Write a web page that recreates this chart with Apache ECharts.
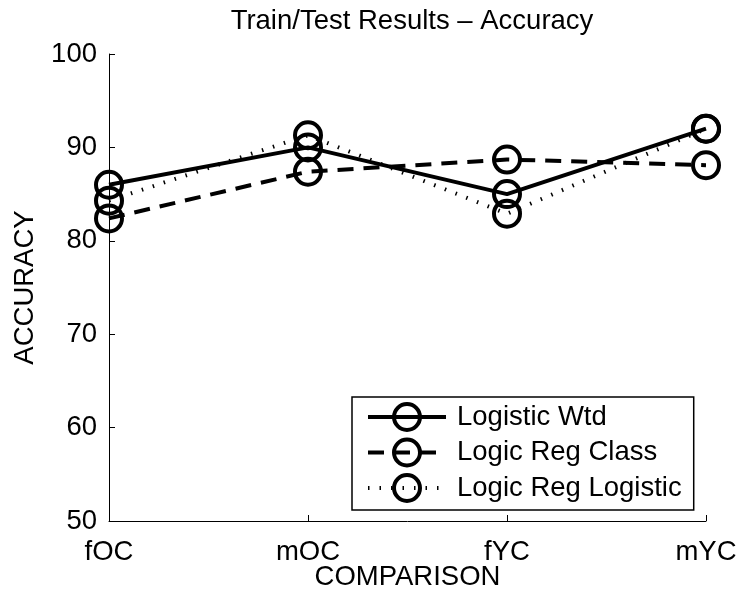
<!DOCTYPE html>
<html><head><meta charset="utf-8">
<script src="https://cdn.jsdelivr.net/npm/echarts@6/dist/echarts.min.js"></script>
<style>html,body{margin:0;padding:0;background:#fff}#c{width:740px;height:590px}</style>
</head><body><div id="c"></div>
<script>
const categories = ['fOC', 'mOC', 'fYC', 'mYC'];
const logisticWtd = [86.0, 90.0, 85.0, 92.0];
const logicRegClass = [82.4, 87.4, 88.7, 88.1];
const logicRegLogistic = [84.3, 91.3, 82.9, 92.0];
const seriesNames = ['Logistic Wtd', 'Logic Reg Class', 'Logic Reg Logistic'];
const yMin = 50, yMax = 100, yStep = 10;

const FONT = "'Liberation Sans', Arial, Helvetica, sans-serif";
const FS = 27.5;
const chart = echarts.init(document.getElementById('c'), null, {renderer: 'canvas'});

function mk(name, data, lineType) {
  return {
    name: name, type: 'line', data: data,
    symbol: 'circle', symbolSize: 26, showSymbol: true,
    lineStyle: {color: '#000', width: 4, type: lineType, cap: 'butt'},
    itemStyle: {color: 'rgba(0,0,0,0)', borderColor: '#000', borderWidth: 4},
    emphasis: {disabled: true}
  };
}

chart.setOption({
  animation: false,
  backgroundColor: '#fff',
  title: {
    text: 'Train/Test Results \u2013 Accuracy',
    left: 407, top: 2, textAlign: 'center',
    textStyle: {fontSize: FS, fontWeight: 'normal', color: '#000', fontFamily: FONT}
  },
  grid: {left: 109, right: 34, top: 54, bottom: 69, containLabel: false, outerBoundsMode: 'none'},
  legend: {
    orient: 'vertical', left: 352, top: 397,
    itemWidth: 78, itemHeight: 32.5, itemGap: 5.5,
    padding: [5, 12, 7, 14],
    borderColor: '#000', borderWidth: 1.5, backgroundColor: '#fff',
    textStyle: {fontSize: FS, color: '#000', fontFamily: FONT, padding: [0, 0, 0, 6]},
    itemStyle: {borderWidth: 4, borderColor: '#000', color: 'rgba(0,0,0,0)'},
    lineStyle: {width: 4},
    data: seriesNames
  },
  xAxis: {
    type: 'category', data: categories, boundaryGap: false,
    name: 'COMPARISON', nameLocation: 'middle', nameGap: 42, nameMoveOverlap: false,
    nameTextStyle: {fontSize: FS, color: '#000', fontFamily: FONT},
    axisLine: {lineStyle: {color: '#000', width: 1}},
    axisTick: {inside: true, length: 6, alignWithLabel: true, lineStyle: {color: '#000'}},
    axisLabel: {fontSize: FS, color: '#000', fontFamily: FONT, margin: 17},
    splitLine: {show: false}
  },
  yAxis: {
    type: 'value', min: yMin, max: yMax, interval: yStep,
    name: 'ACCURACY', nameLocation: 'middle', nameGap: 70, nameRotate: 90, nameMoveOverlap: false,
    nameTextStyle: {fontSize: FS, color: '#000', fontFamily: FONT},
    axisLine: {show: true, lineStyle: {color: '#000', width: 1}},
    axisTick: {show: true, inside: true, length: 6, lineStyle: {color: '#000'}},
    axisLabel: {fontSize: FS, color: '#000', fontFamily: FONT, margin: 12},
    splitLine: {show: false}
  },
  series: [
    mk(seriesNames[0], logisticWtd, 'solid'),
    mk(seriesNames[1], logicRegClass, [16, 10]),
    mk(seriesNames[2], logicRegLogistic, [1.5, 10])
  ]
});
</script></body></html>
